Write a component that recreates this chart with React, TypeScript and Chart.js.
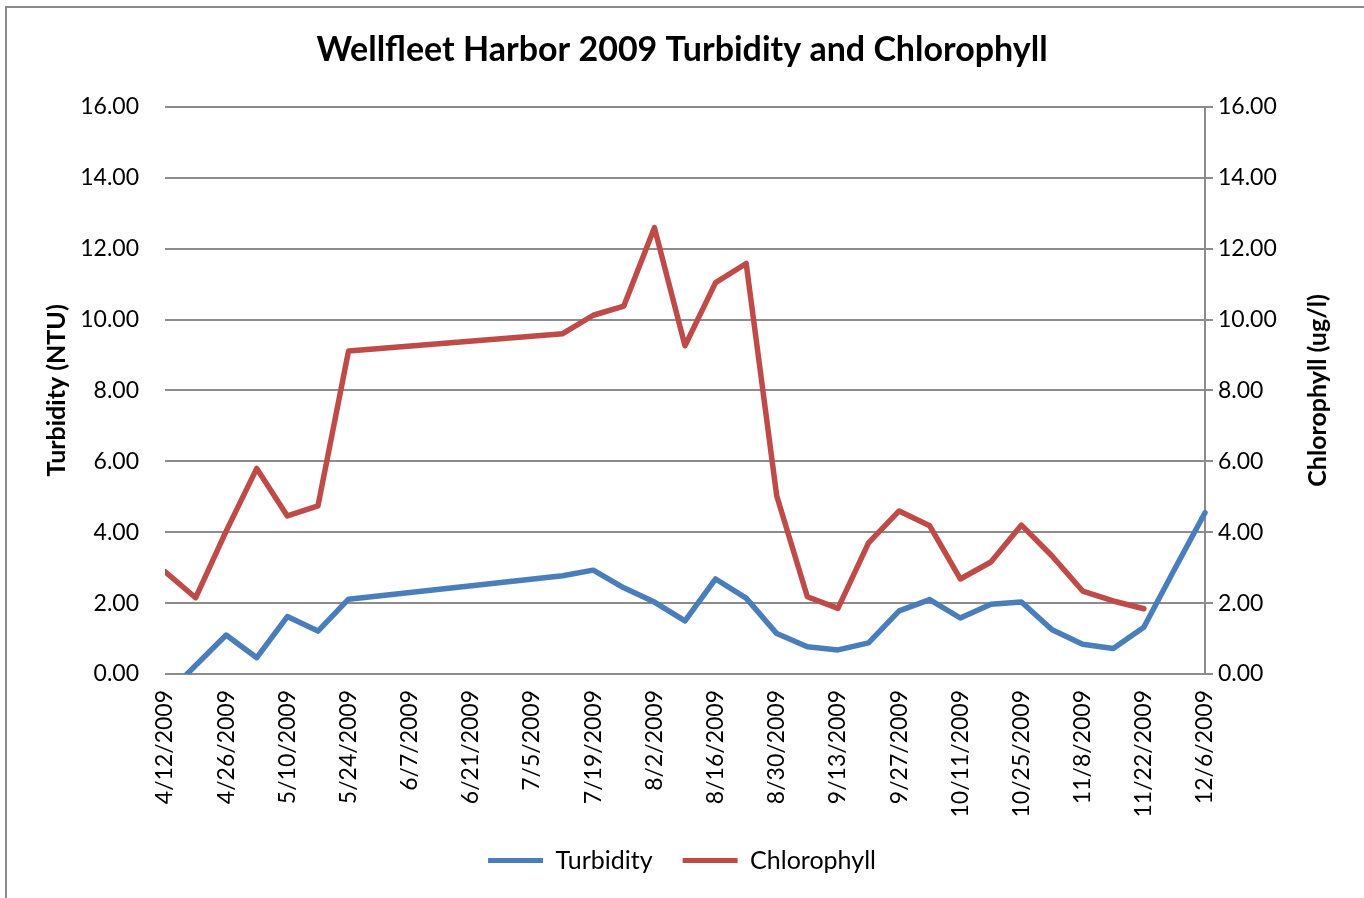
import React, { useEffect, useRef } from "react";
import { Chart, registerables } from "chart.js";

Chart.register(...registerables);

const dates = [
  "4/12/2009", "4/19/2009", "4/26/2009", "5/3/2009", "5/10/2009", "5/17/2009", "5/24/2009",
  "7/12/2009", "7/19/2009", "7/26/2009", "8/2/2009", "8/9/2009", "8/16/2009", "8/23/2009",
  "8/30/2009", "9/6/2009", "9/13/2009", "9/20/2009", "9/27/2009", "10/4/2009", "10/11/2009",
  "10/18/2009", "10/25/2009", "11/1/2009", "11/8/2009", "11/15/2009", "11/22/2009",
  "11/29/2009", "12/6/2009",
];

const turbidity = [
  -0.62, null, 1.1, 0.46, 1.62, 1.21, 2.11,
  2.77, 2.93, 2.43, 2.03, 1.5, 2.68, 2.14,
  1.14, 0.77, 0.68, 0.88, 1.78, 2.1, 1.58,
  1.97, 2.03, 1.25, 0.84, 0.72, 1.32,
  2.95, 4.55,
];

const chlorophyll = [
  2.89, 2.15, 4.03, 5.8, 4.46, 4.74, 9.11,
  9.6, 10.12, 10.38, 12.59, 9.26, 11.04, 11.58,
  5.02, 2.18, 1.85, 3.7, 4.6, 4.18, 2.68,
  3.16, 4.2, 3.33, 2.34, 2.06, 1.84,
  null, null,
];

const axisStart = "4/12/2009";
const axisEnd = "12/6/2009";
const tickStepDays = 14;
const yMin = 0;
const yMax = 16;
const yStep = 2;

const FONT = "Lato, 'Open Sans', sans-serif";
const DAY = 86400000;

function parseDate(s: string) {
  const [m, d, y] = s.split("/").map(Number);
  return Date.UTC(y, m - 1, d);
}
const START = parseDate(axisStart);
function toDay(s: string) {
  return Math.round((parseDate(s) - START) / DAY);
}
function fmt(day: number) {
  const dt = new Date(START + day * DAY);
  return `${dt.getUTCMonth() + 1}/${dt.getUTCDate()}/${dt.getUTCFullYear()}`;
}
function points(values: (number | null)[]) {
  const out: { x: number; y: number }[] = [];
  values.forEach((v, i) => {
    if (v !== null) out.push({ x: toDay(dates[i]), y: v });
  });
  return out;
}

const GRID = "#8c8c8c";

const rightTitle = {
  id: "rightTitle",
  afterDraw(chart: any) {
    const { ctx, chartArea } = chart;
    ctx.save();
    ctx.font = `bold 25px ${FONT}`;
    ctx.fillStyle = "#000";
    ctx.textAlign = "center";
    ctx.textBaseline = "middle";
    ctx.translate(1318, (chartArea.top + chartArea.bottom) / 2);
    ctx.rotate(-Math.PI / 2);
    ctx.fillText("Chlorophyll (ug/l)", 0, 0);
    ctx.restore();
  },
};

export default function App() {
  const ref = useRef<HTMLCanvasElement | null>(null);

  useEffect(() => {
    if (!ref.current) return;
    const chart = new Chart(ref.current, {
      type: "line",
      data: {
        datasets: [
          {
            label: "Turbidity",
            data: points(turbidity),
            borderColor: "#4A7EBB",
            backgroundColor: "#4A7EBB",
            borderWidth: 5.5,
            pointRadius: 0,
            spanGaps: true,
            borderCapStyle: "round",
            borderJoinStyle: "round",
            yAxisID: "y",
            clip: { left: 0, top: 5, right: 5, bottom: 0 },
          },
          {
            label: "Chlorophyll",
            data: points(chlorophyll),
            borderColor: "#BE4B48",
            backgroundColor: "#BE4B48",
            borderWidth: 5.5,
            pointRadius: 0,
            spanGaps: true,
            borderCapStyle: "round",
            borderJoinStyle: "round",
            yAxisID: "y1",
          },
        ],
      },
      options: {
        responsive: false,
        animation: false,
        layout: { padding: { left: 0, right: 0, top: 0, bottom: 15 } },
        plugins: {
          title: {
            display: true,
            text: "Wellfleet Harbor 2009 Turbidity and Chlorophyll",
            color: "#000",
            font: { family: FONT, size: 34, weight: "bold" },
            padding: { top: 30, bottom: 36 },
          },
          legend: {
            position: "bottom",
            labels: {
              color: "#000",
              font: { family: FONT, size: 25 },
              boxWidth: 55,
              boxHeight: 5,
              padding: 30,
              generateLabels: (c: any) =>
                c.data.datasets.map((ds: any, i: number) => ({
                  text: ds.label,
                  fillStyle: ds.borderColor,
                  strokeStyle: ds.borderColor,
                  lineWidth: 0,
                  hidden: false,
                  datasetIndex: i,
                  fontColor: "#000",
                })),
            },
          },
          tooltip: { enabled: false },
        },
        scales: {
          x: {
            type: "linear",
            min: 0,
            max: toDay(axisEnd),
            offset: false,
            grid: { display: false },
            border: { display: false },
            ticks: {
              stepSize: tickStepDays,
              autoSkip: false,
              minRotation: 90,
              maxRotation: 90,
              padding: 8,
              color: "#000",
              font: { family: FONT, size: 23 },
              callback: (v: any) => fmt(Number(v)),
            },
            afterFit: (s: any) => {
              s.height = 144;
            },
          },
          y: {
            position: "left",
            min: yMin,
            max: yMax,
            grid: { color: GRID, lineWidth: 2, drawTicks: false },
            border: { display: false },
            ticks: {
              stepSize: yStep,
              padding: 26,
              color: "#000",
              font: { family: FONT, size: 23 },
              callback: (v: any) => Number(v).toFixed(2),
            },
            title: {
              display: true,
              text: "Turbidity (NTU)",
              color: "#000",
              font: { family: FONT, size: 25, weight: "bold" },
              padding: { top: 42, bottom: 0 },
            },
            afterFit: (s: any) => {
              s.width = 165;
            },
          },
          y1: {
            position: "right",
            min: yMin,
            max: yMax,
            grid: { drawOnChartArea: false, drawTicks: true, tickLength: 8, color: GRID, lineWidth: 2 },
            border: { display: true, color: GRID, width: 2 },
            ticks: {
              stepSize: yStep,
              padding: 5,
              color: "#000",
              font: { family: FONT, size: 23 },
              callback: (v: any) => Number(v).toFixed(2),
            },
            afterFit: (s: any) => {
              s.width = 159;
            },
          },
        },
      },
      plugins: [rightTitle],
    } as any);
    return () => chart.destroy();
  }, []);

  return (
    <div
      style={{
        position: "absolute",
        left: 0,
        top: 0,
        width: 1364,
        height: 898,
        overflow: "hidden",
        background: "#fff",
      }}
    >
      <div
        style={{
          position: "absolute",
          left: 5,
          top: 6,
          width: 1400,
          height: 950,
          border: "2px solid #8a8a8a",
          boxSizing: "border-box",
        }}
      />
      <canvas ref={ref} width={1364} height={898} style={{ position: "absolute", left: 0, top: 0 }} />
    </div>
  );
}
